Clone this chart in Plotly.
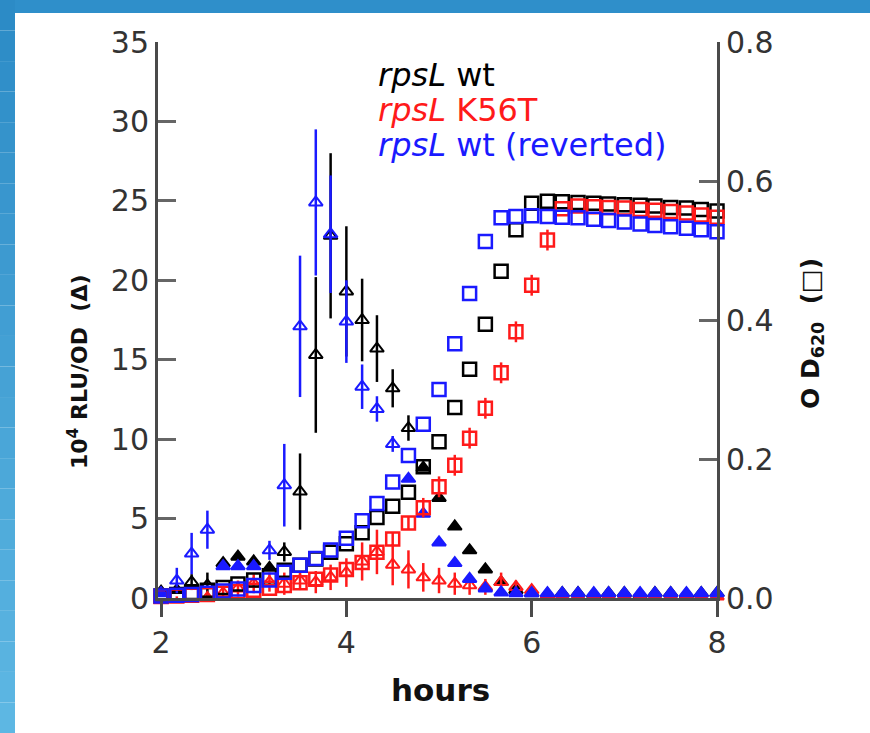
import plotly.graph_objects as go

# ---------------- data ----------------
hours = [2.0, 2.17, 2.33, 2.5, 2.67, 2.83, 3.0, 3.17, 3.33, 3.5, 3.67, 3.83,
         4.0, 4.17, 4.33, 4.5, 4.67, 4.83, 5.0, 5.17, 5.33, 5.5, 5.67, 5.83,
         6.0, 6.17, 6.33, 6.5, 6.67, 6.83, 7.0, 7.17, 7.33, 7.5, 7.67, 7.83, 8.0]

# luminescence, 10^4 RLU/OD (triangles, left axis)
rlu_wt = [0.4, 0.5, 1.0, 0.8, 2.2, 2.6, 2.3, 1.9, 2.9, 6.7, 15.3, 22.8,
          19.3, 17.5, 15.7, 13.2, 10.7, 8.2, 6.3, 4.5, 3.0, 1.8, 1.0, 0.5,
          0.3, 0.25, 0.3, 0.3, 0.25, 0.3, 0.3, 0.25, 0.3, 0.3, 0.25, 0.3, 0.3]
rlu_wt_err = [0, 0, 0.5, 0.8, 0, 0, 0, 0, 0.6, 2.4, 4.9, 5.2,
              4.1, 2.6, 2.1, 1.2, 0.8, 0, 0, 0, 0, 0, 0, 0,
              0, 0, 0, 0, 0, 0, 0, 0, 0, 0, 0, 0, 0]

rlu_k56t = [-0.3, -0.2, -0.4, 0.0, 0.3, 0.6, 0.9, 1.0, 0.9, 1.1, 1.0, 1.3,
            1.6, 2.3, 2.9, 2.1, 1.8, 1.3, 1.1, 0.9, 0.8, 0.7, 1.0, 0.7,
            0.5, 0.2, 0.1, 0.1, 0.1, 0.1, 0.1, 0.1, 0.1, 0.1, 0.1, 0.1, 0.1]
rlu_k56t_err = [0.3, 0.3, 0.3, 0.3, 0.4, 0.5, 0.6, 0.6, 0.7, 0.6, 0.7, 0.8,
                0.9, 1.2, 1.4, 1.3, 1.2, 0.9, 0.8, 0.7, 0.6, 0.5, 0.6, 0.4,
                0.3, 0.2, 0, 0, 0, 0, 0, 0, 0, 0, 0, 0, 0]

rlu_rev = [0.3, 1.1, 2.8, 4.3, 2.0, 2.0, 2.0, 3.0, 7.1, 17.1, 24.9, 22.9,
           17.4, 13.3, 11.9, 9.7, 7.5, 5.3, 3.5, 2.2, 1.2, 0.6, 0.35, 0.3,
           0.3, 0.3, 0.3, 0.3, 0.3, 0.3, 0.3, 0.3, 0.3, 0.3, 0.3, 0.3, 0.3]
rlu_rev_err = [0, 0.8, 1.3, 1.2, 0, 0, 0, 0.6, 2.6, 4.45, 4.6, 3.7,
               2.6, 1.4, 0.8, 0.5, 0, 0, 0, 0, 0, 0, 0, 0,
               0, 0, 0, 0, 0, 0, 0, 0, 0, 0, 0, 0, 0]

# optical density OD620 (squares, right axis)
od_wt = [0.003, 0.005, 0.008, 0.011, 0.015, 0.020, 0.026, 0.032, 0.040, 0.047,
         0.056, 0.066, 0.078, 0.094, 0.116, 0.132, 0.152, 0.189, 0.225, 0.274,
         0.329, 0.394, 0.470, 0.530, 0.568, 0.571, 0.570, 0.569, 0.568, 0.567,
         0.566, 0.565, 0.564, 0.562, 0.561, 0.559, 0.557]
od_k56t = [0.002, 0.003, 0.004, 0.005, 0.007, 0.009, 0.011, 0.014, 0.018, 0.022,
           0.027, 0.033, 0.041, 0.051, 0.066, 0.085, 0.108, 0.130, 0.160, 0.191,
           0.230, 0.273, 0.324, 0.383, 0.450, 0.515, 0.560, 0.564, 0.563, 0.562,
           0.561, 0.559, 0.558, 0.556, 0.554, 0.551, 0.548]
od_k56t_err = [0, 0, 0, 0, 0, 0, 0, 0, 0, 0, 0, 0, 0, 0, 0.008, 0.01, 0.01,
               0.014, 0.015, 0.015, 0.015, 0.015, 0.015, 0.015, 0.015, 0.015,
               0, 0, 0, 0, 0, 0, 0, 0, 0, 0, 0]
od_rev = [0.003, 0.004, 0.005, 0.007, 0.010, 0.013, 0.018, 0.026, 0.037, 0.047,
          0.057, 0.069, 0.086, 0.111, 0.136, 0.167, 0.205, 0.250, 0.300, 0.366,
          0.438, 0.513, 0.547, 0.549, 0.550, 0.549, 0.548, 0.547, 0.545, 0.543,
          0.541, 0.538, 0.536, 0.534, 0.532, 0.530, 0.527]

y_ticks = [0, 5, 10, 15, 20, 25, 30, 35]
y2_ticks = [0.0, 0.2, 0.4, 0.6, 0.8]
x_ticks = [2, 4, 6, 8]

legend_labels = ["<i>rpsL</i> wt", "<i>rpsL</i> K56T", "<i>rpsL</i> wt (reverted)"]

# ---------------- style ----------------
BLACK = "#000000"
RED = "#ff1a1a"
BLUE = "#1a1aff"
AXC = "#4a4a4a"

W, H = 870, 733
L, R, T, B = 158, 153, 42, 135
PW, PH = W - L - R, H - T - B


def px2x(px):
    return (px - L) / PW


def py2y(py):
    return (H - B - py) / PH


fig = go.Figure()

# squares (OD) on right axis
for od, col, err in [(od_wt, BLACK, None), (od_k56t, RED, od_k56t_err), (od_rev, BLUE, None)]:
    kw = {}
    if err is not None:
        kw["error_y"] = dict(type="data", array=err, visible=True, color=col,
                             thickness=2.5, width=0)
    fig.add_trace(go.Scatter(
        x=hours, y=od, mode="markers", yaxis="y2", cliponaxis=False,
        marker=dict(symbol="square-open", size=13, color=col,
                    line=dict(color=col, width=2.5)),
        showlegend=False, **kw))

# triangles (RLU/OD) on left axis
for v, e, col in [(rlu_wt, rlu_wt_err, BLACK), (rlu_k56t, rlu_k56t_err, RED),
                  (rlu_rev, rlu_rev_err, BLUE)]:
    syms = ["triangle-up-open" if ee > 0 else "triangle-up" for ee in e]
    fig.add_trace(go.Scatter(
        x=hours, y=v, mode="markers", cliponaxis=False,
        marker=dict(symbol=syms, size=12, color=col,
                    line=dict(color=col, width=2)),
        error_y=dict(type="data", array=e, visible=True, color=col,
                     thickness=2.5, width=0),
        showlegend=False))

tickfont = dict(family="DejaVu Sans", size=30, color="#333333")

fig.update_layout(
    width=W, height=H,
    margin=dict(l=L, r=R, t=T, b=B, pad=0),
    paper_bgcolor="white", plot_bgcolor="white",
    showlegend=False,
    xaxis=dict(range=[1.967, 8.0], tickvals=x_ticks, ticktext=[str(v) for v in x_ticks],
               showgrid=False, zeroline=False, showline=True, linecolor=AXC, linewidth=3,
               ticks="outside", ticklen=16, tickwidth=3, tickcolor=AXC,
               tickfont=tickfont),
    yaxis=dict(range=[0, 35], tickvals=y_ticks, ticktext=[str(v) for v in y_ticks],
               showgrid=False, zeroline=False, showline=True, linecolor=AXC, linewidth=3,
               ticks="inside", ticklen=18, tickwidth=3, tickcolor="#666666",
               tickfont=tickfont),
    yaxis2=dict(range=[0, 0.8], tickvals=y2_ticks, ticktext=["%.1f" % v for v in y2_ticks],
                overlaying="y", side="right", anchor="x",
                showgrid=False, zeroline=False, showline=True, linecolor=AXC, linewidth=3,
                ticks="inside", ticklen=18, tickwidth=3, tickcolor="#666666",
                tickfont=tickfont),
)

# legend text
for i, (lab, col) in enumerate(zip(legend_labels, [BLACK, RED, BLUE])):
    fig.add_annotation(x=px2x(376), y=py2y(75 + 35 * i), xref="paper", yref="paper",
                       text=lab, showarrow=False, xanchor="left", yanchor="middle",
                       font=dict(family="DejaVu Sans", size=32, color=col))

# axis titles
fig.add_annotation(x=px2x(78), y=py2y(372), xref="paper", yref="paper",
                   text="<b>10<sup>4</sup> RLU/OD  (Δ)</b>", textangle=-90,
                   showarrow=False, xanchor="center", yanchor="middle",
                   font=dict(family="DejaVu Sans", size=22, color="#111111"))
fig.add_annotation(x=px2x(812), y=py2y(333), xref="paper", yref="paper",
                   text="<b>O D<sub>620</sub>  (□)</b>", textangle=-90,
                   showarrow=False, xanchor="center", yanchor="middle",
                   font=dict(family="DejaVu Sans", size=25, color="#111111"))
fig.add_annotation(x=px2x(440), y=py2y(690), xref="paper", yref="paper",
                   text="<b>hours</b>", showarrow=False, xanchor="center", yanchor="middle",
                   font=dict(family="DejaVu Sans", size=31, color="#111111"))

# blue frame (top and left bands)
shapes = []
shapes.append(dict(type="rect", xref="paper", yref="paper", layer="below",
                   x0=px2x(0), x1=px2x(W), y0=py2y(13), y1=py2y(0),
                   fillcolor="#2f8fca", line=dict(width=0)))
n = 24
c0 = (0x2c, 0x8b, 0xc6)
c1 = (0x5d, 0xb7, 0xe3)
for i in range(n):
    f = i / (n - 1)
    c = tuple(int(round(a + (b - a) * f)) for a, b in zip(c0, c1))
    shapes.append(dict(type="rect", xref="paper", yref="paper", layer="below",
                       x0=px2x(0), x1=px2x(15),
                       y0=py2y(H * (i + 1) / n), y1=py2y(H * i / n),
                       fillcolor="rgb(%d,%d,%d)" % c, line=dict(width=0)))
fig.update_layout(shapes=shapes)

fig.write_html("out.html", config={"displayModeBar": False},
               post_script="document.body.style.margin='0';document.body.style.overflow='hidden';")
